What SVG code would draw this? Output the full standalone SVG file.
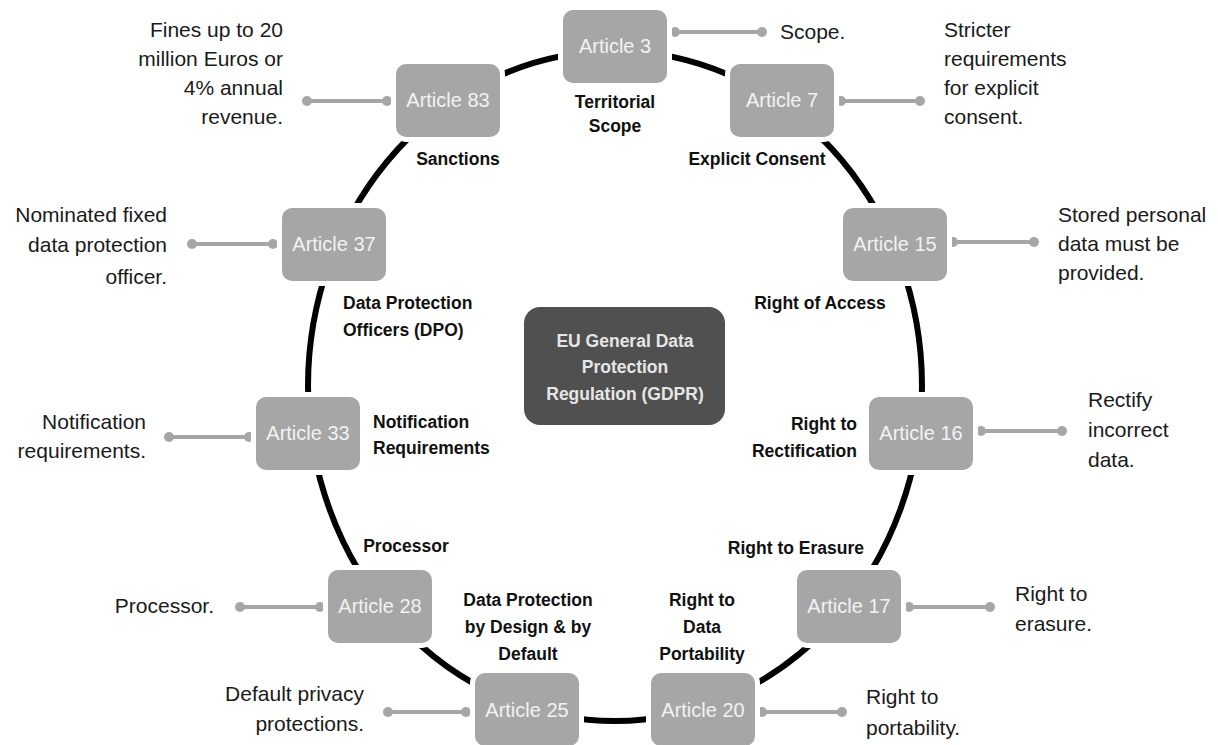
<svg xmlns="http://www.w3.org/2000/svg" width="1218" height="745" viewBox="0 0 1218 745">
<style>
.node rect{fill:#a6a6a6;stroke:#ffffff;stroke-width:10;paint-order:stroke}
.node text{font-family:"Liberation Sans",Arial,sans-serif;font-size:20px;fill:#f2f2f2;text-anchor:middle}
.desc{font-family:"Liberation Sans",Arial,sans-serif;font-size:21px;fill:#1a1a1a}
.lbl{font-family:"Liberation Sans",Arial,sans-serif;font-size:17.5px;font-weight:bold;fill:#111111}
.conn line{stroke:#a6a6a6;stroke-width:4}
.conn circle{fill:#a6a6a6}
.ring{fill:none;stroke:#000000;stroke-width:6}
.center rect{fill:#505050}
.center text{font-family:"Liberation Sans",Arial,sans-serif;font-size:17.5px;font-weight:bold;fill:#e6e6e6;text-anchor:middle}
</style>
<rect width="1218" height="745" fill="#ffffff"/>
<g id="connectors">
<ellipse class="ring" cx="615" cy="386" rx="307" ry="335"/>
<g class="conn">
<line x1="675" y1="32" x2="762" y2="32"/><circle cx="675" cy="32" r="5"/><circle cx="762" cy="32" r="5"/>
<line x1="307" y1="101" x2="387" y2="101"/><circle cx="307" cy="101" r="5"/><circle cx="387" cy="101" r="5"/>
<line x1="841" y1="101" x2="920" y2="101"/><circle cx="841" cy="101" r="5"/><circle cx="920" cy="101" r="5"/>
<line x1="953" y1="242" x2="1034" y2="242"/><circle cx="953" cy="242" r="5"/><circle cx="1034" cy="242" r="5"/>
<line x1="192" y1="244" x2="273" y2="244"/><circle cx="192" cy="244" r="5"/><circle cx="273" cy="244" r="5"/>
<line x1="169" y1="437" x2="249" y2="437"/><circle cx="169" cy="437" r="5"/><circle cx="249" cy="437" r="5"/>
<line x1="981" y1="431" x2="1062" y2="431"/><circle cx="981" cy="431" r="5"/><circle cx="1062" cy="431" r="5"/>
<line x1="909" y1="607" x2="990" y2="607"/><circle cx="909" cy="607" r="5"/><circle cx="990" cy="607" r="5"/>
<line x1="240" y1="607" x2="320" y2="607"/><circle cx="240" cy="607" r="5"/><circle cx="320" cy="607" r="5"/>
<line x1="388" y1="712" x2="466" y2="712"/><circle cx="388" cy="712" r="5"/><circle cx="466" cy="712" r="5"/>
<line x1="762" y1="712" x2="842" y2="712"/><circle cx="762" cy="712" r="5"/><circle cx="842" cy="712" r="5"/>
</g>
</g>
<g id="center" class="center">
<rect x="524" y="307" width="201" height="118" rx="16"/>
<text x="625" y="347">EU General Data</text>
<text x="625" y="373">Protection</text>
<text x="625" y="400">Regulation (GDPR)</text>
</g>
<g id="art3" class="node"><rect x="563" y="10" width="104" height="73" rx="10"/><text x="615" y="53">Article 3</text></g>
<g id="art83" class="node"><rect x="396" y="64" width="104" height="73" rx="10"/><text x="448" y="107">Article 83</text></g>
<g id="art7" class="node"><rect x="730" y="64" width="104" height="73" rx="10"/><text x="782" y="107">Article 7</text></g>
<g id="art15" class="node"><rect x="843" y="208" width="104" height="73" rx="10"/><text x="895" y="251">Article 15</text></g>
<g id="art37" class="node"><rect x="282" y="208" width="104" height="73" rx="10"/><text x="334" y="251">Article 37</text></g>
<g id="art33" class="node"><rect x="256" y="397" width="104" height="73" rx="10"/><text x="308" y="440">Article 33</text></g>
<g id="art16" class="node"><rect x="869" y="397" width="104" height="73" rx="10"/><text x="921" y="440">Article 16</text></g>
<g id="art17" class="node"><rect x="797" y="570" width="104" height="73" rx="10"/><text x="849" y="613">Article 17</text></g>
<g id="art28" class="node"><rect x="328" y="570" width="104" height="73" rx="10"/><text x="380" y="613">Article 28</text></g>
<g id="art25" class="node"><rect x="475" y="673" width="104" height="73" rx="10"/><text x="527" y="717">Article 25</text></g>
<g id="art20" class="node"><rect x="651" y="673" width="104" height="73" rx="10"/><text x="703" y="717">Article 20</text></g>
<g id="labels">
<text class="lbl" x="615" y="108" font-size="15" text-anchor="middle">Territorial</text>
<text class="lbl" x="615" y="132" font-size="15" text-anchor="middle">Scope</text>
<text class="lbl" x="458" y="165" text-anchor="middle">Sanctions</text>
<text class="lbl" x="757" y="165" text-anchor="middle">Explicit Consent</text>
<text class="lbl" x="820" y="309" text-anchor="middle">Right of Access</text>
<text class="lbl" x="343" y="309">Data Protection</text>
<text class="lbl" x="343" y="336">Officers (DPO)</text>
<text class="lbl" x="373" y="428">Notification</text>
<text class="lbl" x="373" y="454">Requirements</text>
<text class="lbl" x="857" y="430" text-anchor="end">Right to</text>
<text class="lbl" x="857" y="457" text-anchor="end">Rectification</text>
<text class="lbl" x="864" y="554" text-anchor="end">Right to Erasure</text>
<text class="lbl" x="406" y="552" text-anchor="middle">Processor</text>
<text class="lbl" x="528" y="606" text-anchor="middle">Data Protection</text>
<text class="lbl" x="528" y="633" text-anchor="middle">by Design &amp; by</text>
<text class="lbl" x="528" y="660" text-anchor="middle">Default</text>
<text class="lbl" x="702" y="606" text-anchor="middle">Right to</text>
<text class="lbl" x="702" y="633" text-anchor="middle">Data</text>
<text class="lbl" x="702" y="660" text-anchor="middle">Portability</text>
</g>
<g id="descriptions">
<text class="desc" x="780" y="39">Scope.</text>
<text class="desc" x="944" y="37">Stricter</text>
<text class="desc" x="944" y="66">requirements</text>
<text class="desc" x="944" y="95">for explicit</text>
<text class="desc" x="944" y="124">consent.</text>
<text class="desc" x="1058" y="222">Stored personal</text>
<text class="desc" x="1058" y="251">data must be</text>
<text class="desc" x="1058" y="280">provided.</text>
<text class="desc" x="1088" y="407">Rectify</text>
<text class="desc" x="1088" y="437">incorrect</text>
<text class="desc" x="1088" y="467">data.</text>
<text class="desc" x="1015" y="601">Right to</text>
<text class="desc" x="1015" y="631">erasure.</text>
<text class="desc" x="866" y="704">Right to</text>
<text class="desc" x="866" y="735">portability.</text>
<text class="desc" x="364" y="701" text-anchor="end">Default privacy</text>
<text class="desc" x="364" y="731" text-anchor="end">protections.</text>
<text class="desc" x="214" y="613" text-anchor="end">Processor.</text>
<text class="desc" x="146" y="429" text-anchor="end">Notification</text>
<text class="desc" x="146" y="458" text-anchor="end">requirements.</text>
<text class="desc" x="167" y="222" text-anchor="end">Nominated fixed</text>
<text class="desc" x="167" y="252" text-anchor="end">data protection</text>
<text class="desc" x="167" y="284" text-anchor="end">officer.</text>
<text class="desc" x="283" y="37" text-anchor="end">Fines up to 20</text>
<text class="desc" x="283" y="66" text-anchor="end">million Euros or</text>
<text class="desc" x="283" y="95" text-anchor="end">4% annual</text>
<text class="desc" x="283" y="124" text-anchor="end">revenue.</text>
</g>
</svg>
